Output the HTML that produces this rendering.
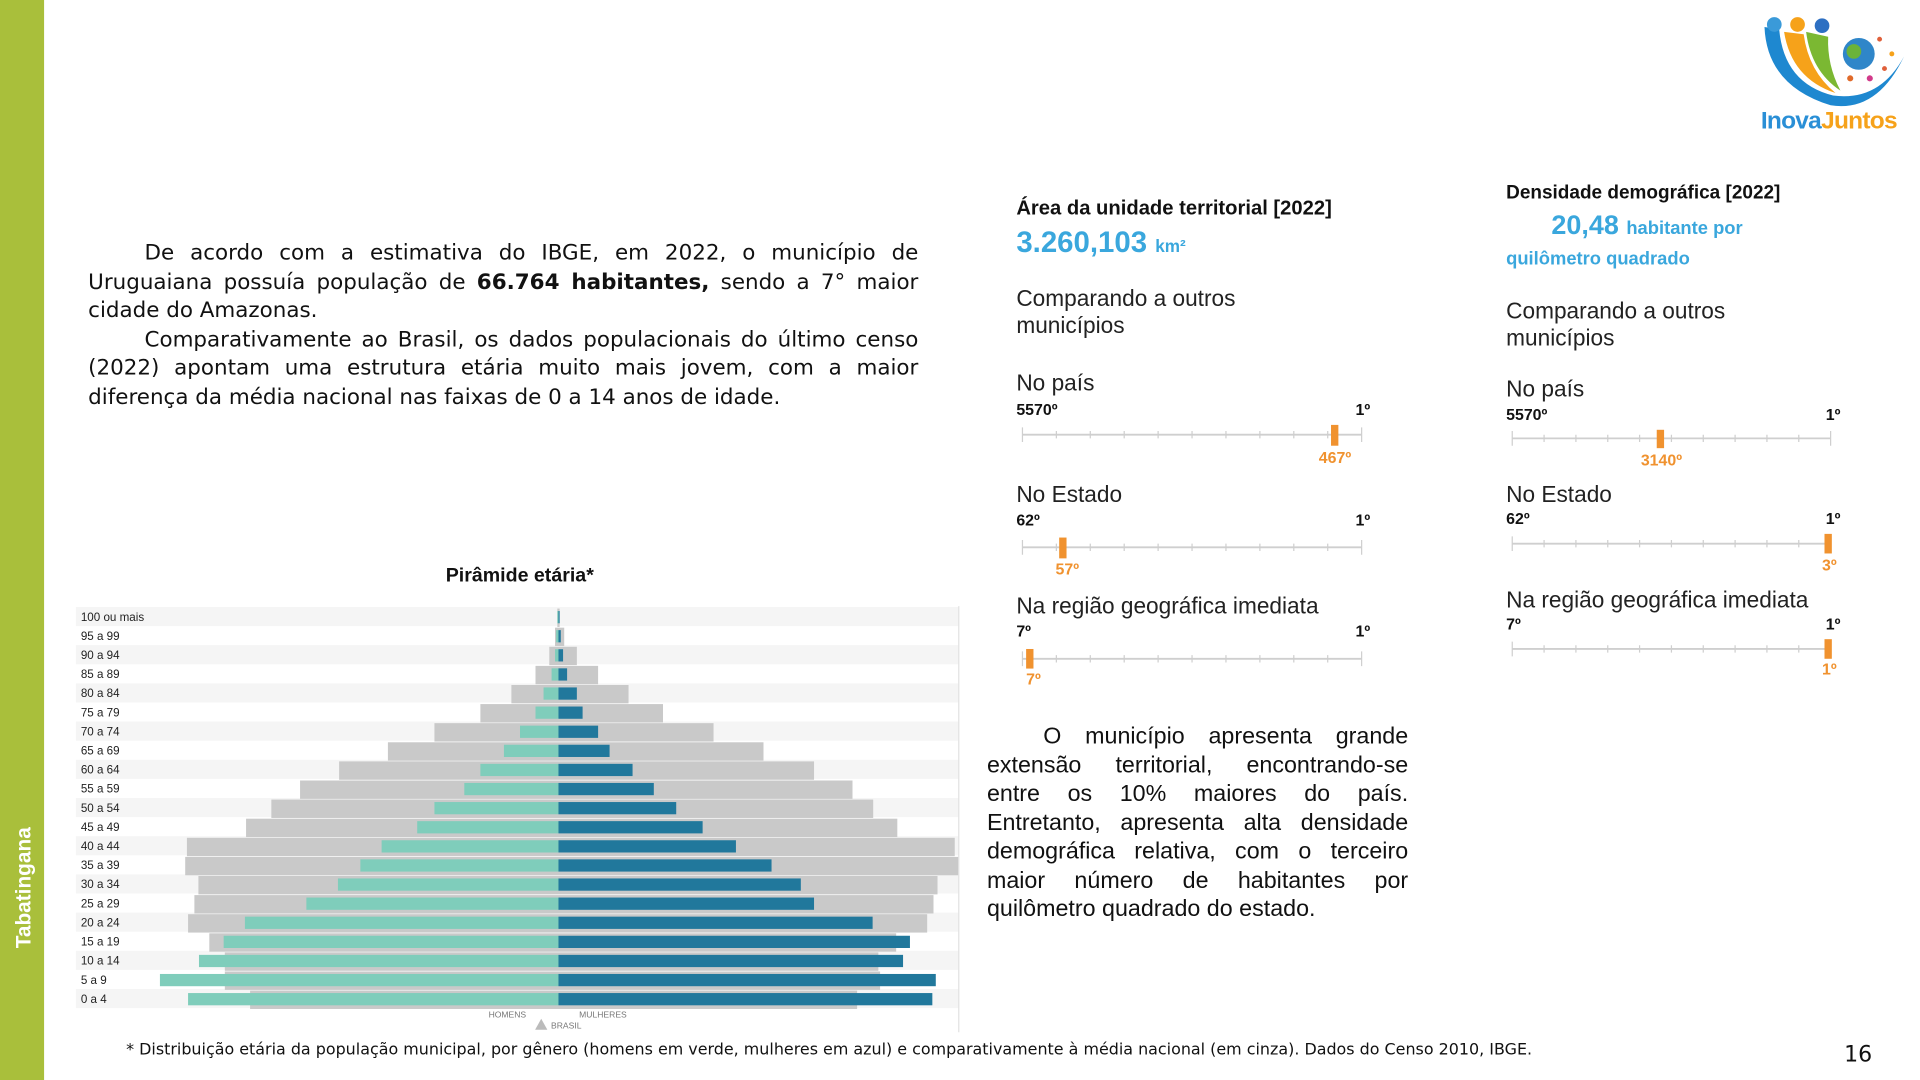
<!DOCTYPE html>
<html><head><meta charset="utf-8"><style>
html,body{margin:0;padding:0;background:#fff;overflow:hidden}
#pg{position:absolute;left:0;top:0;width:1568px;height:882px;transform:scale(1.22449);transform-origin:0 0;font-family:"Liberation Sans",sans-serif;color:#111}
.a{position:absolute;white-space:nowrap}
.p{position:absolute;font-size:19px;line-height:23.5px;text-align:justify;color:#111}
.h{font-weight:bold;font-size:16.5px}
.c{font-size:18.5px;color:#222;line-height:22px}
.sm{font-weight:bold;font-size:13px}
.or{color:#f0922f;font-weight:bold;font-size:13px}
</style></head><body><div id="pg">
<div class="a" style="left:0;top:0;width:36px;height:882px;background:#a9bf3b"></div>
<div class="a" style="left:20px;top:725px;transform:translate(-50%,-50%) rotate(-90deg);color:#fff;font-weight:bold;font-size:17px">Tabatinganа</div>

<svg class="a" style="left:1435px;top:6px" width="125" height="108" viewBox="0 0 125 108">
<path d="M6 16 Q8 64 60 80 Q98 86 120 40 Q100 77 62 72 Q22 62 18 18Z" fill="#1e88d0"/>
<path d="M22 20 Q28 58 64 70 Q42 52 38 22Z" fill="#f6a21a"/>
<path d="M40 20 Q44 52 68 68 Q57 47 58 24Z" fill="#7bb832"/>
<circle cx="14" cy="14" r="6" fill="#3a9ad9"/><circle cx="33" cy="14" r="6" fill="#f6a21a"/><circle cx="53" cy="15" r="6" fill="#2d6fc2"/>
<circle cx="83" cy="38" r="13" fill="#2f86c9"/><circle cx="79" cy="36" r="6" fill="#6bb33a"/>
<circle cx="100" cy="26" r="2" fill="#e0603a"/><circle cx="110" cy="38" r="2" fill="#f6a21a"/><circle cx="92" cy="58" r="2.5" fill="#d23a8a"/><circle cx="76" cy="58" r="2.5" fill="#e06a2a"/><circle cx="104" cy="50" r="2" fill="#e0603a"/>
<text x="3" y="99" font-family="Liberation Sans" font-weight="bold" font-size="20" fill="#2a8fd6" letter-spacing="-0.6">Inova<tspan fill="#f6a21a">Juntos</tspan></text>
</svg>

<div class="p" style="left:72px;top:196px;width:678px;font-family:'DejaVu Sans',sans-serif;font-size:17.5px">
<div style="text-indent:46px">De acordo com a estimativa do IBGE, em 2022, o município de Uruguaiana possuía população de <b>66.764 habitantes,</b> sendo a 7° maior cidade do Amazonas.</div>
<div style="text-indent:46px">Comparativamente ao Brasil, os dados populacionais do último censo (2022) apontam uma estrutura etária muito mais jovem, com a maior diferença da média nacional nas faixas de 0 a 14 anos de idade.</div>
</div>

<div class="a" style="left:364px;top:462px;font-weight:bold;font-size:16px">Pirâmide etária*</div>

<svg class="a" style="left:0;top:0" width="800" height="850">
<g fill="#f5f5f5">
<rect x="62" y="495.7" width="721" height="15.6"/><rect x="62" y="526.9" width="721" height="15.6"/><rect x="62" y="558.1" width="721" height="15.6"/><rect x="62" y="589.3" width="721" height="15.6"/><rect x="62" y="620.5" width="721" height="15.6"/><rect x="62" y="651.7" width="721" height="15.6"/><rect x="62" y="682.9" width="721" height="15.6"/><rect x="62" y="714.1" width="721" height="15.6"/><rect x="62" y="745.3" width="721" height="15.6"/><rect x="62" y="776.5" width="721" height="15.6"/><rect x="62" y="807.7" width="721" height="15.6"/>
</g>
<line x1="783" y1="495" x2="783" y2="843" stroke="#e2e2e2"/>
<g transform="translate(49,0) scale(0.469,1)">
<g fill="#c9c9c9">
<rect x="866" y="497" width="4" height="15"/>
<rect x="862" y="512.6" width="16" height="15"/>
<rect x="852" y="528.2" width="48" height="15"/>
<rect x="828" y="543.8" width="109" height="15"/>
<rect x="786" y="559.4" width="204" height="15"/>
<rect x="732" y="575" width="318" height="15"/>
<rect x="652" y="590.6" width="486" height="15"/>
<rect x="571" y="606.2" width="654" height="15"/>
<rect x="486" y="621.8" width="827" height="15"/>
<rect x="418" y="637.4" width="962" height="15"/>
<rect x="368" y="653" width="1048" height="15"/>
<rect x="324" y="668.6" width="1134" height="15"/>
<rect x="221" y="684.2" width="1337" height="15"/>
<rect x="218" y="699.8" width="1346" height="15"/>
<rect x="241" y="715.4" width="1287" height="15"/>
<rect x="234" y="731" width="1287" height="15"/>
<rect x="223" y="746.6" width="1287" height="15"/>
<rect x="260" y="762.2" width="1196" height="15"/>
<rect x="287" y="777.8" width="1138" height="15"/>
<rect x="287" y="793.4" width="1141" height="15"/>
<rect x="331" y="809" width="1057" height="15"/>
</g>
<g fill="#7fcdbb">
<rect x="866" y="499" width="2" height="10"/>
<rect x="864" y="514.6" width="4" height="10"/>
<rect x="862" y="530.2" width="6" height="10"/>
<rect x="856" y="545.8" width="12" height="10"/>
<rect x="842" y="561.4" width="26" height="10"/>
<rect x="828" y="577" width="40" height="10"/>
<rect x="801" y="592.6" width="67" height="10"/>
<rect x="773" y="608.2" width="95" height="10"/>
<rect x="732" y="623.8" width="136" height="10"/>
<rect x="704" y="639.4" width="164" height="10"/>
<rect x="652" y="655" width="216" height="10"/>
<rect x="622" y="670.6" width="246" height="10"/>
<rect x="560" y="686.2" width="308" height="10"/>
<rect x="523" y="701.8" width="345" height="10"/>
<rect x="484" y="717.4" width="384" height="10"/>
<rect x="429" y="733" width="439" height="10"/>
<rect x="322" y="748.6" width="546" height="10"/>
<rect x="285" y="764.2" width="583" height="10"/>
<rect x="242" y="779.8" width="626" height="10"/>
<rect x="174" y="795.4" width="694" height="10"/>
<rect x="223" y="811" width="645" height="10"/>
</g>
<g fill="#21789c">
<rect x="868" y="499" width="2" height="10"/>
<rect x="868" y="514.6" width="4" height="10"/>
<rect x="868" y="530.2" width="8" height="10"/>
<rect x="868" y="545.8" width="15" height="10"/>
<rect x="868" y="561.4" width="32" height="10"/>
<rect x="868" y="577" width="42" height="10"/>
<rect x="868" y="592.6" width="69" height="10"/>
<rect x="868" y="608.2" width="89" height="10"/>
<rect x="868" y="623.8" width="129" height="10"/>
<rect x="868" y="639.4" width="166" height="10"/>
<rect x="868" y="655" width="205" height="10"/>
<rect x="868" y="670.6" width="251" height="10"/>
<rect x="868" y="686.2" width="309" height="10"/>
<rect x="868" y="701.8" width="371" height="10"/>
<rect x="868" y="717.4" width="422" height="10"/>
<rect x="868" y="733" width="445" height="10"/>
<rect x="868" y="748.6" width="547" height="10"/>
<rect x="868" y="764.2" width="612" height="10"/>
<rect x="868" y="779.8" width="600" height="10"/>
<rect x="868" y="795.4" width="657" height="10"/>
<rect x="868" y="811" width="651" height="10"/>
</g>
</g>
<g font-family="Liberation Sans" font-size="9.5" fill="#222">
<text x="66" y="507">100 ou mais</text><text x="66" y="522.6">95 a 99</text><text x="66" y="538.2">90 a 94</text><text x="66" y="553.8">85 a 89</text><text x="66" y="569.4">80 a 84</text><text x="66" y="585">75 a 79</text><text x="66" y="600.6">70 a 74</text><text x="66" y="616.2">65 a 69</text><text x="66" y="631.8">60 a 64</text><text x="66" y="647.4">55 a 59</text><text x="66" y="663">50 a 54</text><text x="66" y="678.6">45 a 49</text><text x="66" y="694.2">40 a 44</text><text x="66" y="709.8">35 a 39</text><text x="66" y="725.4">30 a 34</text><text x="66" y="741">25 a 29</text><text x="66" y="756.6">20 a 24</text><text x="66" y="772.2">15 a 19</text><text x="66" y="787.8">10 a 14</text><text x="66" y="803.4">5 a 9</text><text x="66" y="819">0 a 4</text>
</g>
<g font-family="Liberation Sans" font-size="7" fill="#777">
<text x="399" y="831">HOMENS</text><text x="473" y="831">MULHERES</text><text x="450" y="840">BRASIL</text>
</g>
<polygon points="437,841 442,832 447,841" fill="#bbb"/>
</svg>

<div class="a" style="left:103px;top:850px;font-size:13px;font-family:'DejaVu Sans',sans-serif">* Distribuição etária da população municipal, por gênero (homens em verde, mulheres em azul) e comparativamente à média nacional (em cinza). Dados do Censo 2010, IBGE.</div>
<div class="a" style="left:1506px;top:851px;font-size:18px;font-family:'DejaVu Sans',sans-serif">16</div>

<!-- column 1 -->
<div class="a h" style="left:830px;top:161px">Área da unidade territorial [2022]</div>
<div class="a" style="left:830px;top:185px;color:#3aa7dd;font-weight:bold;font-size:24px">3.260,103 <span style="font-size:14px">km²</span></div>
<div class="a c" style="left:830px;top:233px">Comparando a outros<br>municípios</div>
<div class="a c" style="left:830px;top:302px">No país</div>
<div class="a sm" style="left:830px;top:327px">5570º</div><div class="a sm" style="left:1107px;top:327px">1º</div>
<div class="a c" style="left:830px;top:393px">No Estado</div>
<div class="a sm" style="left:830px;top:417px">62º</div><div class="a sm" style="left:1107px;top:417px">1º</div>
<div class="a c" style="left:830px;top:484px">Na região geográfica imediata</div>
<div class="a sm" style="left:830px;top:508px">7º</div><div class="a sm" style="left:1107px;top:508px">1º</div>
<div class="a or" style="left:1077px;top:366px">467º</div>
<div class="a or" style="left:862px;top:457px">57º</div>
<div class="a or" style="left:838px;top:547px">7º</div>

<!-- column 2 -->
<div class="a" style="left:1230px;top:149px;font-weight:bold;font-size:15.5px">Densidade demográfica [2022]</div>
<div class="a" style="left:1267px;top:171px;color:#3aa7dd;font-weight:bold;font-size:22px">20,48 <span style="font-size:15px">habitante por</span></div>
<div class="a" style="left:1230px;top:203px;color:#3aa7dd;font-weight:bold;font-size:15px">quilômetro quadrado</div>
<div class="a c" style="left:1230px;top:243px">Comparando a outros<br>municípios</div>
<div class="a c" style="left:1230px;top:307px">No país</div>
<div class="a sm" style="left:1230px;top:331px">5570º</div><div class="a sm" style="left:1491px;top:331px">1º</div>
<div class="a c" style="left:1230px;top:393px">No Estado</div>
<div class="a sm" style="left:1230px;top:416px">62º</div><div class="a sm" style="left:1491px;top:416px">1º</div>
<div class="a c" style="left:1230px;top:479px">Na região geográfica imediata</div>
<div class="a sm" style="left:1230px;top:502px">7º</div><div class="a sm" style="left:1491px;top:502px">1º</div>
<div class="a or" style="left:1340px;top:368px">3140º</div>
<div class="a or" style="left:1488px;top:454px">3º</div>
<div class="a or" style="left:1488px;top:539px">1º</div>

<svg class="a" style="left:0;top:0" width="1568" height="600">
<g stroke="#cfcfcf" stroke-width="1.5">
<line x1="835" y1="355" x2="1112" y2="355"/><line x1="835" y1="447" x2="1112" y2="447"/><line x1="835" y1="538" x2="1112" y2="538"/>
<line x1="1235" y1="358" x2="1495" y2="358"/><line x1="1235" y1="444" x2="1495" y2="444"/><line x1="1235" y1="530" x2="1495" y2="530"/>
</g>
<g stroke="#cfcfcf" stroke-width="1">
<path d="M835 349v12M862.7 352v6M890.4 352v6M918.1 352v6M945.8 352v6M973.5 352v6M1001.2 352v6M1028.9 352v6M1056.6 352v6M1084.3 352v6M1112 349v12"/>
<path d="M835 441v12M862.7 444v6M890.4 444v6M918.1 444v6M945.8 444v6M973.5 444v6M1001.2 444v6M1028.9 444v6M1056.6 444v6M1084.3 444v6M1112 441v12"/>
<path d="M835 532v12M862.7 535v6M890.4 535v6M918.1 535v6M945.8 535v6M973.5 535v6M1001.2 535v6M1028.9 535v6M1056.6 535v6M1084.3 535v6M1112 532v12"/>
<path d="M1235 352v12M1261 355v6M1287 355v6M1313 355v6M1339 355v6M1365 355v6M1391 355v6M1417 355v6M1443 355v6M1469 355v6M1495 352v12"/>
<path d="M1235 438v12M1261 441v6M1287 441v6M1313 441v6M1339 441v6M1365 441v6M1391 441v6M1417 441v6M1443 441v6M1469 441v6M1495 438v12"/>
<path d="M1235 524v12M1261 527v6M1287 527v6M1313 527v6M1339 527v6M1365 527v6M1391 527v6M1417 527v6M1443 527v6M1469 527v6M1495 524v12"/>
</g>
<g fill="#f0922f">
<rect x="1087" y="347" width="6" height="17"/><rect x="865" y="439" width="6" height="17"/><rect x="838" y="530" width="6" height="16"/>
<rect x="1353" y="351" width="6" height="15"/><rect x="1490" y="436" width="6" height="16"/><rect x="1490" y="522" width="6" height="16"/>
</g>
</svg>

<div class="p" style="left:806px;top:590px;width:344px">
<div style="text-indent:46px">O município apresenta grande extensão territorial, encontrando-se entre os 10% maiores do país. Entretanto, apresenta alta densidade demográfica relativa, com o terceiro maior número de habitantes por quilômetro quadrado do estado.</div>
</div>
</div></body></html>
